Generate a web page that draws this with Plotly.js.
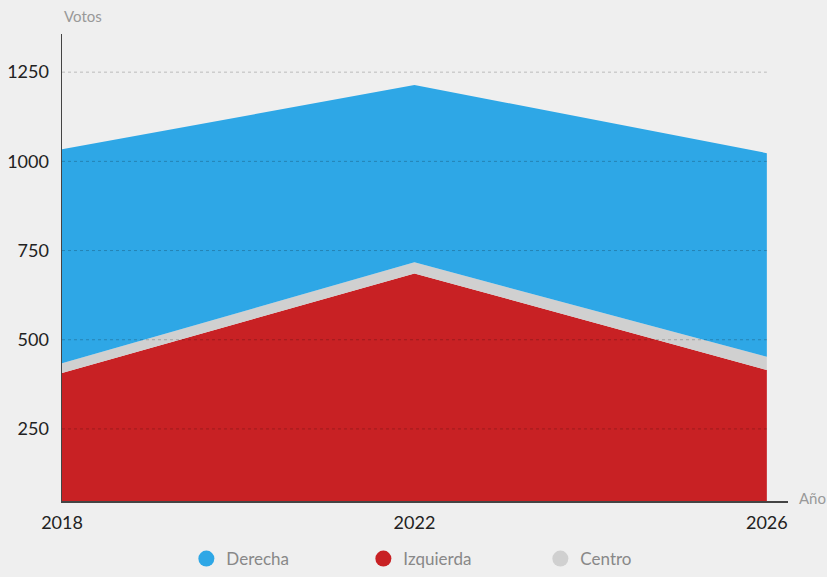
<!DOCTYPE html>
<html>
<head>
<meta charset="utf-8">
<script src="https://cdn.plot.ly/plotly-3.0.1.min.js"></script>
<style>html,body{margin:0;padding:0;background:#efefef;}#chart{width:827px;height:577px;}</style>
</head>
<body>
<div id="chart"></div>
<script>
const years = [2018, 2022, 2026];
const izquierda = [407, 686, 415];
const centro = [27, 31, 37];
const derecha = [600, 497, 571];
const yTicks = [250, 500, 750, 1000, 1250];
const xTicks = [2018, 2022, 2026];

const colors = {Derecha: '#2ea7e6', Izquierda: '#c82124', Centro: '#d0d0d0'};
const font = 'Lato, "Open Sans", sans-serif';

const traces = [
  {x: years, y: izquierda, name: 'Izquierda', stackgroup: 'one', mode: 'none', fillcolor: colors.Izquierda, showlegend: false},
  {x: years, y: centro, name: 'Centro', stackgroup: 'one', mode: 'none', fillcolor: colors.Centro, showlegend: false},
  {x: years, y: derecha, name: 'Derecha', stackgroup: 'one', mode: 'none', fillcolor: colors.Derecha, showlegend: false}
];
['Derecha', 'Izquierda', 'Centro'].forEach(n => {
  traces.push({x: [null], y: [null], name: n, mode: 'markers', type: 'scatter',
    marker: {symbol: 'circle', size: 20, color: colors[n]}, showlegend: true});
});

const shapes = yTicks.map(v => ({
  type: 'line', xref: 'x', yref: 'y', x0: xTicks[0], x1: xTicks[xTicks.length - 1], y0: v, y1: v,
  line: {color: 'rgba(0,0,0,0.22)', width: 1, dash: 'dot'}, layer: 'above'
}));

const layout = {
  width: 827, height: 577,
  paper_bgcolor: '#efefef', plot_bgcolor: '#efefef',
  margin: {l: 62, r: 39, t: 34, b: 76},
  font: {family: font, color: '#333'},
  xaxis: {range: [2018, 2026.24], tickvals: xTicks, ticktext: xTicks.map(String), showgrid: false, zeroline: false,
    showline: true, linecolor: '#444', linewidth: 1.5, ticks: '', ticklabelstandoff: 5, tickfont: {size: 18, color: '#222'}, fixedrange: true},
  yaxis: {range: [48, 1357], tickvals: yTicks, showgrid: false, zeroline: false,
    showline: true, linecolor: '#444', linewidth: 1.5, ticks: '', ticklabelstandoff: 8, tickfont: {size: 18, color: '#222'}},
  shapes: shapes,
  annotations: [
    {text: 'Votos', xref: 'paper', yref: 'paper', x: 0, y: 1, xanchor: 'left', yanchor: 'bottom', yshift: 7, showarrow: false,
      font: {size: 15, color: '#999'}},
    {text: 'Año', xref: 'paper', yref: 'paper', x: 1, y: 0, xanchor: 'left', yanchor: 'middle', xshift: 9, yshift: 3, showarrow: false,
      font: {size: 15, color: '#999'}}
  ],
  legend: {orientation: 'h', traceorder: 'normal', x: 0.537, xanchor: 'center', xref: 'paper', yref: 'container', y: 0, yanchor: 'bottom',
    font: {size: 17, color: '#888'}, entrywidth: 132, bgcolor: 'rgba(0,0,0,0)'},
  showlegend: true
};

Plotly.newPlot('chart', traces, layout, {displayModeBar: false, staticPlot: true});
</script>
</body>
</html>
